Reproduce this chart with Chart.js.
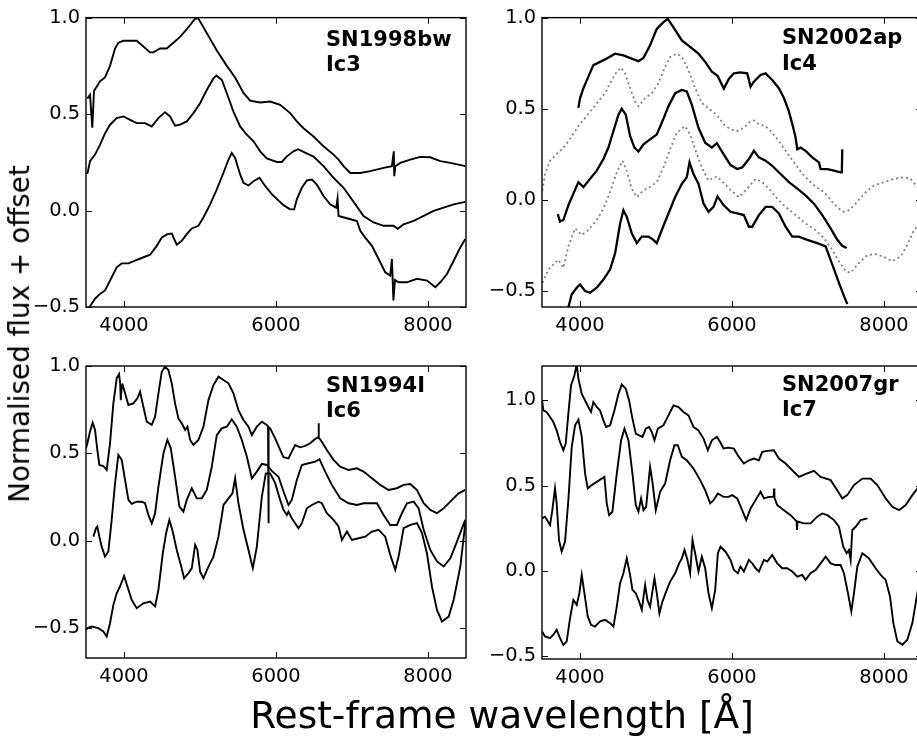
<!DOCTYPE html>
<html>
<head>
<meta charset="utf-8">
<script src="https://cdn.jsdelivr.net/npm/chart.js@4/dist/chart.umd.min.js"></script>
<style>
  html, body { margin:0; padding:0; background:#fff; overflow:hidden; }
  #fig { position:relative; width:917px; height:739px; overflow:hidden; background:#fff; }
  canvas { position:absolute; }
  .ann { position:absolute; font-family:"DejaVu Sans", sans-serif; font-weight:bold; font-size:21px; line-height:25px; color:#000; white-space:pre; }
  .lab { position:absolute; font-family:"DejaVu Sans", sans-serif; color:#000; white-space:nowrap; line-height:1; }
</style>
</head>
<body>
<div id="fig">
  <canvas id="p1" width="470" height="345" style="left:0px;top:0px"></canvas>
  <canvas id="p2" width="460" height="345" style="left:470px;top:0px"></canvas>
  <canvas id="p3" width="470" height="360" style="left:0px;top:340px"></canvas>
  <canvas id="p4" width="460" height="360" style="left:470px;top:340px"></canvas>
  <div class="ann" style="left:326px;top:27px">SN1998bw
Ic3</div>
  <div class="ann" style="left:782px;top:24px;line-height:26px">SN2002ap
Ic4</div>
  <div class="ann" style="left:326px;top:373px">SN1994I
Ic6</div>
  <div class="ann" style="left:782px;top:372px">SN2007gr
Ic7</div>
  <div class="lab" id="ylab" style="left:20px;top:334px;font-size:27.8px;transform:translate(-50%,-50%) rotate(-90deg)">Normalised flux + offset</div>
  <div class="lab" id="xlab" style="left:502px;top:716px;font-size:37.5px;transform:translate(-50%,-50%)">Rest-frame wavelength [Å]</div>
</div>
<script>
// ---------- tick values ----------
const xTicks = [4000, 6000, 8000];
const yTicks = [-0.5, 0.0, 0.5, 1.0];

// ---------- SN1998bw (Ic3) ----------
const wl_98bw_a = [3518,3553,3583,3605,3684,3750,3816,3882,3926,3992,4080,4167,4255,4343,4387,4475,4562,4650,4738,4826,4936,4979,5045,5133,5221,5353,5462,5572,5660,5792,5923,6055,6186,6274,6362,6494,6625,6757,6823,6889,6977,7109,7240,7416,7525,7550,7556,7570,7635,7767,7899,8030,8162,8294,8491];
const fx_98bw_a = [0.58,0.60,0.43,0.62,0.67,0.69,0.75,0.84,0.87,0.88,0.88,0.88,0.85,0.82,0.82,0.84,0.84,0.87,0.90,0.94,0.995,0.995,0.95,0.89,0.83,0.75,0.69,0.61,0.57,0.56,0.565,0.548,0.505,0.462,0.427,0.384,0.333,0.290,0.264,0.230,0.195,0.195,0.204,0.221,0.230,0.307,0.178,0.23,0.247,0.264,0.278,0.276,0.256,0.247,0.230];
const wl_98bw_b = [3518,3553,3619,3684,3750,3816,3904,3992,4080,4167,4277,4365,4453,4540,4606,4672,4738,4826,4914,5001,5089,5177,5215,5287,5353,5440,5528,5616,5704,5792,5879,5923,6011,6077,6143,6230,6290,6362,6494,6625,6757,6889,7021,7152,7284,7416,7547,7600,7679,7811,7943,8074,8206,8338,8491];
const fx_98bw_b = [0.19,0.256,0.29,0.34,0.40,0.445,0.479,0.488,0.47,0.453,0.453,0.436,0.479,0.51,0.488,0.44,0.445,0.462,0.505,0.556,0.625,0.685,0.70,0.677,0.608,0.513,0.436,0.393,0.359,0.307,0.27,0.264,0.252,0.252,0.281,0.307,0.318,0.304,0.28,0.230,0.17,0.118,0.045,-0.028,-0.062,-0.079,-0.079,-0.095,-0.071,-0.054,-0.028,-0.002,0.015,0.032,0.045];
const wl_98bw_c = [3531,3619,3684,3750,3838,3904,3970,4058,4145,4233,4343,4431,4497,4571,4628,4694,4760,4826,4892,4979,5045,5133,5221,5309,5375,5418,5462,5528,5572,5638,5704,5783,5857,5945,6011,6099,6186,6239,6274,6340,6406,6472,6537,6625,6713,6792,6810,6823,6933,7065,7109,7174,7262,7350,7437,7503,7525,7545,7565,7613,7723,7855,7987,8096,8162,8250,8338,8425,8491];
const fx_98bw_c = [-0.509,-0.457,-0.432,-0.414,-0.346,-0.294,-0.274,-0.274,-0.26,-0.246,-0.229,-0.183,-0.14,-0.122,-0.119,-0.177,-0.157,-0.122,-0.093,-0.079,-0.036,0.032,0.11,0.196,0.264,0.299,0.273,0.187,0.144,0.13,0.152,0.17,0.127,0.085,0.06,0.028,0.006,0.006,0.058,0.118,0.156,0.161,0.135,0.075,0.032,0.015,0.063,-0.028,-0.04,-0.054,-0.105,-0.14,-0.183,-0.251,-0.32,-0.337,-0.251,-0.466,-0.36,-0.372,-0.372,-0.354,-0.363,-0.397,-0.372,-0.329,-0.26,-0.191,-0.148];

// ---------- SN2002ap (Ic4) ----------
const wl_02ap_a = [3979,4001,4045,4110,4176,4264,4352,4462,4571,4681,4769,4835,4922,5010,5098,5155,5230,5340,5449,5559,5647,5735,5810,5893,5960,6025,6112,6200,6244,6288,6376,6442,6529,6617,6683,6749,6806,6837,6859,6903,6968,7056,7144,7166,7254,7342,7429,7445,7451];
const fx_02ap_a = [0.504,0.558,0.612,0.676,0.739,0.757,0.775,0.802,0.793,0.775,0.761,0.779,0.848,0.938,0.975,0.993,0.947,0.875,0.839,0.802,0.757,0.703,0.68,0.61,0.665,0.694,0.699,0.694,0.621,0.648,0.685,0.694,0.657,0.612,0.558,0.485,0.395,0.34,0.277,0.286,0.268,0.232,0.205,0.168,0.168,0.159,0.15,0.15,0.277];
const wl_02ap_b = [3505,3540,3606,3693,3803,3891,3979,4067,4154,4242,4330,4418,4484,4541,4593,4659,4725,4769,4857,4944,5032,5120,5186,5274,5340,5427,5515,5603,5713,5801,5893,5981,6068,6156,6244,6288,6354,6442,6529,6617,6705,6815,6946,7078,7210,7320,7407,7473,7539,7627,7737,7868,8000,8132,8263,8351,8439];
const fx_02ap_b = [0.05,0.141,0.214,0.25,0.295,0.349,0.404,0.449,0.494,0.54,0.585,0.657,0.703,0.725,0.694,0.612,0.54,0.513,0.558,0.585,0.639,0.73,0.784,0.802,0.784,0.712,0.612,0.531,0.494,0.465,0.413,0.386,0.377,0.395,0.431,0.435,0.413,0.404,0.368,0.322,0.268,0.205,0.132,0.078,0.042,-0.013,-0.049,-0.067,-0.058,-0.022,0.033,0.078,0.096,0.114,0.123,0.114,0.069];
const wl_02ap_c = [3707,3737,3781,3847,3913,3979,4045,4132,4220,4308,4374,4440,4506,4549,4602,4659,4716,4769,4835,4922,5010,5076,5164,5252,5340,5405,5471,5559,5647,5735,5801,5888,5981,6068,6134,6222,6288,6354,6442,6529,6639,6749,6859,6968,7078,7188,7298,7385,7451,7508];
const fx_02ap_c = [-0.08,-0.121,-0.112,-0.031,0.033,0.096,0.069,0.114,0.159,0.223,0.286,0.377,0.467,0.5,0.467,0.35,0.286,0.264,0.304,0.331,0.358,0.422,0.513,0.585,0.603,0.594,0.522,0.395,0.313,0.286,0.31,0.25,0.19,0.168,0.177,0.223,0.268,0.232,0.214,0.186,0.141,0.096,0.06,0.023,-0.022,-0.085,-0.158,-0.221,-0.254,-0.266];
const wl_02ap_d = [3505,3584,3649,3715,3781,3847,3935,4023,4110,4220,4308,4396,4484,4558,4615,4681,4747,4835,4922,5010,5098,5186,5274,5383,5449,5515,5603,5691,5801,5888,5990,6090,6200,6310,6398,6486,6595,6705,6837,6968,7100,7210,7320,7407,7495,7561,7649,7759,7868,8000,8110,8220,8307,8395,8439];
const fx_02ap_d = [-0.457,-0.384,-0.357,-0.33,-0.375,-0.257,-0.158,-0.194,-0.167,-0.112,-0.049,0.042,0.15,0.214,0.159,0.06,0.014,0.051,0.069,0.096,0.177,0.277,0.368,0.404,0.358,0.277,0.177,0.105,0.128,0.092,0.05,0.014,0.06,0.114,0.096,0.06,0.005,-0.04,-0.085,-0.131,-0.167,-0.212,-0.276,-0.339,-0.393,-0.402,-0.357,-0.312,-0.297,-0.315,-0.339,-0.312,-0.248,-0.167,-0.149];
const wl_02ap_e = [3830,3891,3957,4001,4067,4132,4220,4308,4396,4462,4528,4571,4615,4681,4747,4813,4900,4966,5010,5076,5164,5252,5340,5405,5441,5493,5559,5625,5691,5757,5810,5888,5981,6068,6156,6222,6266,6354,6442,6529,6617,6705,6793,6881,6990,7122,7232,7320,7407,7473,7517];
const fx_02ap_e = [-0.62,-0.52,-0.484,-0.466,-0.502,-0.511,-0.484,-0.439,-0.384,-0.294,-0.131,-0.058,-0.094,-0.185,-0.239,-0.203,-0.203,-0.221,-0.239,-0.167,-0.076,0.014,0.087,0.123,0.205,0.141,0.087,-0.022,-0.067,-0.04,0.018,-0.03,-0.067,-0.076,-0.085,-0.149,-0.149,-0.085,-0.04,-0.04,-0.076,-0.149,-0.203,-0.203,-0.221,-0.239,-0.257,-0.357,-0.457,-0.529,-0.574];

// ---------- SN1994I (Ic6) ----------
const wl_94I_a = [3500,3518,3553,3588,3619,3649,3676,3728,3772,3816,3860,3904,3935,3950,3957,3970,3983,4014,4058,4123,4176,4211,4255,4299,4365,4409,4453,4497,4540,4584,4628,4672,4716,4760,4804,4835,4870,4914,4979,5045,5111,5177,5243,5309,5375,5440,5506,5572,5638,5682,5748,5814,5879,5895,5900,5905,5923,5989,6055,6099,6164,6208,6252,6318,6384,6450,6516,6555,6560,6565,6603,6669,6757,6845,6955,7065,7152,7262,7372,7481,7591,7679,7767,7855,7943,8030,8118,8206,8316,8403,8491];
const fx_94I_a = [0.53,0.558,0.625,0.676,0.634,0.52,0.434,0.428,0.405,0.558,0.786,0.929,0.954,0.90,0.805,0.88,0.891,0.844,0.777,0.786,0.815,0.853,0.767,0.682,0.663,0.71,0.844,0.967,0.996,0.977,0.901,0.786,0.70,0.672,0.634,0.653,0.577,0.548,0.577,0.653,0.805,0.891,0.939,0.92,0.901,0.844,0.748,0.691,0.653,0.605,0.653,0.682,0.663,0.655,0.10,0.65,0.643,0.586,0.52,0.478,0.472,0.51,0.548,0.535,0.543,0.558,0.583,0.592,0.672,0.59,0.567,0.52,0.463,0.424,0.405,0.415,0.396,0.358,0.32,0.291,0.301,0.32,0.325,0.291,0.215,0.177,0.158,0.186,0.234,0.272,0.291];
const wl_94I_b = [3597,3632,3649,3676,3706,3750,3794,3838,3882,3926,3970,4014,4058,4101,4167,4233,4277,4321,4365,4409,4453,4519,4571,4615,4672,4729,4782,4826,4892,4958,5023,5089,5155,5221,5287,5353,5418,5484,5550,5616,5682,5748,5814,5879,5945,6033,6099,6164,6208,6274,6340,6428,6516,6573,6647,6735,6845,6955,7065,7152,7262,7328,7416,7503,7591,7657,7723,7811,7877,7943,8030,8118,8206,8294,8381,8491];
const fx_94I_b = [0.024,0.072,0.082,0.024,-0.033,-0.09,-0.061,0.12,0.329,0.491,0.463,0.348,0.234,0.211,0.224,0.224,0.215,0.148,0.10,0.158,0.31,0.501,0.577,0.529,0.367,0.196,0.167,0.234,0.301,0.243,0.243,0.291,0.424,0.605,0.643,0.653,0.695,0.653,0.577,0.482,0.358,0.396,0.44,0.434,0.40,0.367,0.282,0.205,0.234,0.348,0.434,0.444,0.453,0.466,0.396,0.32,0.243,0.215,0.205,0.215,0.215,0.215,0.148,0.091,0.091,0.158,0.215,0.224,0.186,0.063,-0.052,-0.118,-0.147,-0.10,-0.004,0.12];
const wl_94I_c = [3500,3518,3575,3662,3728,3772,3816,3860,3904,3948,4001,4045,4101,4167,4255,4343,4409,4453,4510,4554,4597,4641,4694,4747,4791,4848,4892,4936,4966,5001,5045,5111,5177,5243,5309,5375,5427,5462,5506,5572,5638,5695,5748,5814,5866,5923,5989,6055,6099,6143,6164,6208,6296,6340,6406,6472,6560,6603,6669,6757,6823,6867,6933,6999,7087,7174,7262,7350,7437,7503,7569,7613,7679,7767,7855,7921,7986,8052,8118,8184,8272,8338,8425,8491];
const fx_94I_c = [-0.51,-0.499,-0.49,-0.499,-0.518,-0.547,-0.471,-0.366,-0.30,-0.261,-0.20,-0.261,-0.337,-0.385,-0.357,-0.347,-0.375,-0.28,-0.071,0.044,0.12,0.053,-0.052,-0.137,-0.214,-0.185,-0.156,-0.023,-0.052,-0.176,-0.214,-0.147,-0.09,0.024,0.205,0.243,0.272,0.358,0.215,0.063,-0.052,-0.156,-0.033,0.253,0.386,0.386,0.33,0.234,0.177,0.148,0.167,0.129,0.072,0.101,0.186,0.205,0.224,0.215,0.158,0.12,0.082,0.005,0.053,0.005,0.015,0.024,0.053,0.063,0.024,-0.08,-0.166,-0.09,0.072,0.091,0.101,0.044,-0.071,-0.261,-0.395,-0.461,-0.433,-0.337,-0.147,0.101];

// ---------- SN2007gr (Ic7) ----------
const wl_07gr_a = [3500,3518,3562,3606,3649,3693,3737,3781,3812,3847,3882,3926,3957,3979,4023,4067,4110,4145,4176,4220,4264,4308,4343,4396,4453,4506,4549,4602,4646,4690,4734,4778,4822,4866,4909,4944,4980,5024,5098,5164,5230,5296,5362,5427,5493,5559,5625,5682,5735,5801,5844,5888,5954,6025,6090,6156,6222,6288,6354,6398,6464,6551,6617,6705,6793,6881,6990,7078,7166,7298,7385,7451,7517,7605,7715,7824,7912,8022,8110,8198,8285,8373,8439,8500];
const fx_07gr_a = [1.0,0.94,0.93,0.901,0.872,0.823,0.755,0.707,0.746,0.921,1.086,1.144,1.21,1.125,1.037,0.998,0.96,0.931,0.989,0.96,0.94,0.882,0.843,0.853,0.94,1.037,1.092,1.067,0.998,0.892,0.804,0.794,0.785,0.833,0.843,0.814,0.765,0.833,0.853,0.911,0.969,0.96,0.931,0.911,0.843,0.823,0.775,0.707,0.765,0.785,0.755,0.717,0.722,0.716,0.668,0.629,0.648,0.658,0.648,0.697,0.703,0.707,0.658,0.629,0.59,0.551,0.571,0.586,0.551,0.532,0.473,0.425,0.444,0.503,0.541,0.541,0.503,0.425,0.376,0.356,0.386,0.444,0.483,0.53];
const wl_07gr_b = [3500,3540,3606,3636,3671,3693,3724,3759,3803,3847,3891,3935,3979,4023,4067,4102,4154,4220,4286,4321,4352,4383,4426,4484,4541,4585,4637,4690,4734,4769,4804,4835,4870,4922,4953,4997,5054,5120,5186,5243,5287,5340,5405,5493,5581,5647,5713,5757,5814,5888,5954,6003,6068,6134,6187,6244,6310,6376,6420,6486,6548,6553,6558,6595,6683,6771,6850,6855,6862,6946,7034,7122,7188,7254,7342,7407,7464,7508,7539,7561,7583,7627,7693,7781];
const fx_07gr_b = [0.308,0.318,0.269,0.356,0.483,0.396,0.181,0.113,0.172,0.415,0.726,0.853,0.886,0.785,0.57,0.483,0.503,0.522,0.541,0.551,0.396,0.327,0.347,0.57,0.765,0.833,0.765,0.57,0.386,0.347,0.425,0.356,0.376,0.61,0.522,0.356,0.464,0.512,0.648,0.736,0.736,0.668,0.648,0.60,0.532,0.473,0.396,0.415,0.454,0.434,0.434,0.444,0.425,0.356,0.298,0.366,0.415,0.464,0.425,0.434,0.434,0.483,0.43,0.386,0.356,0.327,0.29,0.24,0.29,0.279,0.279,0.318,0.337,0.327,0.298,0.259,0.142,0.104,0.123,0.065,0.24,0.259,0.298,0.308];
const wl_07gr_c = [3500,3540,3606,3649,3693,3737,3781,3825,3869,3913,3957,3992,4023,4058,4102,4145,4198,4264,4330,4396,4440,4484,4527,4571,4615,4659,4690,4734,4778,4813,4857,4887,4922,4980,5010,5045,5085,5142,5186,5252,5304,5340,5375,5414,5449,5480,5515,5559,5603,5647,5691,5735,5779,5814,5849,5915,5981,6025,6077,6112,6156,6222,6266,6310,6354,6420,6464,6529,6595,6661,6727,6793,6859,6924,6968,7034,7100,7166,7232,7298,7363,7429,7473,7526,7570,7605,7649,7715,7802,7890,7956,8022,8079,8123,8176,8242,8307,8373,8439,8500];
const fx_07gr_c = [-0.354,-0.383,-0.393,-0.373,-0.344,-0.393,-0.432,-0.412,-0.276,-0.169,-0.198,-0.13,-0.023,-0.13,-0.266,-0.315,-0.325,-0.295,-0.286,-0.305,-0.325,-0.208,-0.072,-0.013,0.074,-0.023,-0.11,-0.13,-0.179,-0.227,-0.081,-0.169,-0.208,-0.042,-0.13,-0.247,-0.179,-0.11,-0.062,-0.013,0.045,0.074,0.123,0.065,-0.013,0.181,0.104,-0.003,0.084,0.016,-0.13,-0.218,-0.11,0.104,0.142,0.113,0.065,0.006,-0.013,0.026,-0.003,0.065,0.045,0.016,-0.003,0.065,0.055,0.094,0.045,0.016,0.016,-0.003,-0.033,-0.023,-0.052,-0.013,0.006,0.045,0.084,0.045,0.035,0.035,-0.013,-0.13,-0.237,-0.13,0.026,0.104,0.074,0.016,-0.023,-0.052,-0.149,-0.305,-0.412,-0.432,-0.402,-0.305,-0.13,0.02];

// ---------- drawing ----------
const FONT = "'DejaVu Sans', sans-serif";
const pts = (wl, fx) => wl.map((w, i) => ({x: w, y: fx[i]}));
const fmtY = v => (Math.abs(v) < 1e-9 ? 0 : v).toFixed(1).replace('-', '\u2212');
const fmtX = v => String(Math.round(v));

const frameTicks = {
  id: 'frameTicks',
  afterDraw(chart) {
    const {ctx, chartArea: a, scales: {x, y}} = chart;
    ctx.save();
    ctx.strokeStyle = '#000';
    ctx.lineWidth = 1;
    const L = 6;
    ctx.beginPath();
    x.ticks.forEach(t => {
      const px = Math.round(x.getPixelForValue(t.value)) + 0.5;
      ctx.moveTo(px, a.bottom); ctx.lineTo(px, a.bottom - L);
      ctx.moveTo(px, a.top); ctx.lineTo(px, a.top + L);
    });
    y.ticks.forEach(t => {
      const py = Math.round(y.getPixelForValue(t.value)) + 0.5;
      ctx.moveTo(a.left, py); ctx.lineTo(a.left + L, py);
      ctx.moveTo(a.right, py); ctx.lineTo(a.right - L, py);
    });
    ctx.stroke();
    ctx.lineWidth = 1.4;
    ctx.strokeRect(a.left, a.top, a.right - a.left, a.bottom - a.top);
    ctx.restore();
  }
};

function ds(wl, fx, opts) {
  return Object.assign({
    data: pts(wl, fx), borderColor: '#000', borderWidth: 1.9,
    pointRadius: 0, tension: 0, fill: false, clip: 0
  }, opts || {});
}

function panel(id, datasets, g) {
  new Chart(document.getElementById(id), {
    type: 'line',
    data: {datasets},
    plugins: [frameTicks],
    options: {
      responsive: false, animation: false, devicePixelRatio: 1,
      layout: {padding: {top: g.top, right: g.right, left: 0, bottom: 0}},
      plugins: {legend: {display: false}, tooltip: {enabled: false}},
      scales: {
        x: {
          type: 'linear', min: 3500, max: 8500,
          afterBuildTicks: s => { s.ticks = xTicks.map(v => ({value: v})); },
          afterFit: s => { s.height = g.xh; },
          grid: {display: false, drawTicks: false}, border: {display: false},
          ticks: {font: {family: FONT, size: 19.4}, color: '#000', padding: 7, maxRotation: 0, autoSkip: false, callback: v => fmtX(v)}
        },
        y: {
          type: 'linear', min: g.ymin, max: g.ymax,
          afterBuildTicks: s => { s.ticks = yTicks.map(v => ({value: v})); },
          afterFit: s => { s.width = g.yw; },
          grid: {display: false, drawTicks: false}, border: {display: false},
          ticks: {font: {family: FONT, size: 19.4}, color: '#000', padding: 6, callback: v => fmtY(v), autoSkip: false}
        }
      }
    }
  });
}

const gray = {borderColor: '#808080', borderWidth: 1.8, borderDash: [2, 3]};
const thick = {borderWidth: 2.3};

panel('p1', [
  ds(wl_98bw_a, fx_98bw_a), ds(wl_98bw_b, fx_98bw_b), ds(wl_98bw_c, fx_98bw_c)
], {top: 14, right: 4, yw: 86, xh: 38, ymin: -0.5, ymax: 1.0});

panel('p2', [
  ds(wl_02ap_b, fx_02ap_b, gray), ds(wl_02ap_d, fx_02ap_d, gray),
  ds(wl_02ap_a, fx_02ap_a, thick), ds(wl_02ap_c, fx_02ap_c, thick), ds(wl_02ap_e, fx_02ap_e, thick)
], {top: 14, right: 8, yw: 72, xh: 38, ymin: -0.59, ymax: 1.0});

panel('p3', [
  ds(wl_94I_a, fx_94I_a), ds(wl_94I_b, fx_94I_b), ds(wl_94I_c, fx_94I_c)
], {top: 26, right: 4, yw: 86, xh: 42, ymin: -0.67, ymax: 1.0});

panel('p4', [
  ds(wl_07gr_a, fx_07gr_a), ds(wl_07gr_b, fx_07gr_b), ds(wl_07gr_c, fx_07gr_c)
], {top: 26, right: 8, yw: 72, xh: 41, ymin: -0.515, ymax: 1.2});
</script>
</body>
</html>
